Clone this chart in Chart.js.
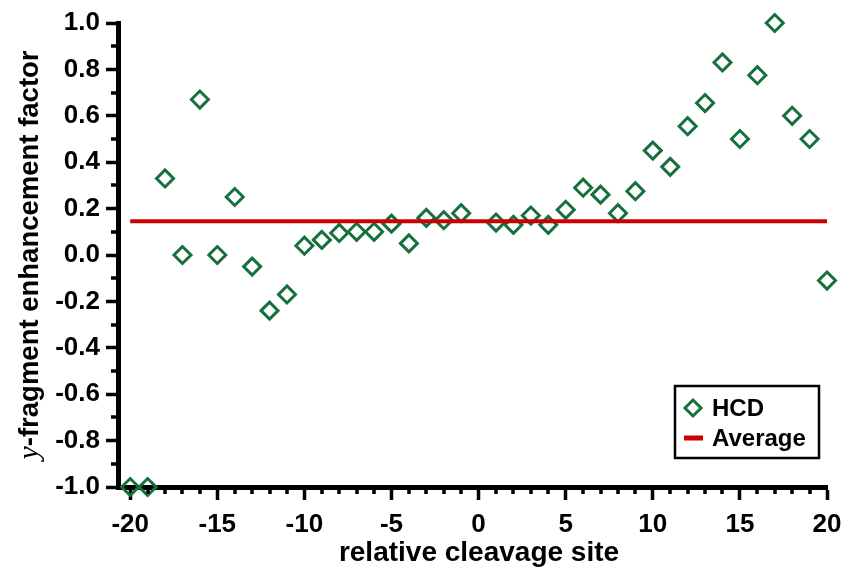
<!DOCTYPE html>
<html>
<head>
<meta charset="utf-8">
<script src="https://cdn.jsdelivr.net/npm/chart.js@4.4.1/dist/chart.umd.min.js"></script>
<style>
  html, body { margin: 0; padding: 0; background: #fff; }
  #wrap { width: 844px; height: 571px; }
</style>
</head>
<body>
<div id="wrap"><canvas id="chart" width="844" height="571"></canvas></div>
<script>
// relative cleavage site (no value at 0)
const sites = [-20, -19, -18, -17, -16, -15, -14, -13, -12, -11,
               -10, -9, -8, -7, -6, -5, -4, -3, -2, -1,
               1, 2, 3, 4, 5, 6, 7, 8, 9, 10,
               11, 12, 13, 14, 15, 16, 17, 18, 19, 20];
// y-fragment enhancement factor, HCD
const hcdFactor = [-1.0, -1.0, 0.33, 0.0, 0.67, 0.0, 0.25, -0.05, -0.24, -0.17,
                   0.04, 0.065, 0.095, 0.10, 0.10, 0.135, 0.05, 0.16, 0.15, 0.18,
                   0.14, 0.13, 0.17, 0.13, 0.195, 0.29, 0.26, 0.18, 0.275, 0.45,
                   0.38, 0.555, 0.655, 0.83, 0.50, 0.775, 1.0, 0.60, 0.50, -0.11];
// average line
const averageSpan = [-20, 20];
const averageValue = 0.145;

// labelled ticks
const xLabels = [-20, -15, -10, -5, 0, 5, 10, 15, 20];
const yLabels = [-1.0, -0.8, -0.6, -0.4, -0.2, 0.0, 0.2, 0.4, 0.6, 0.8, 1.0];

const GREEN = '#16703c';
const RED = '#cc0000';
const SANS = '"Liberation Sans", Arial, sans-serif';

// every unit on x, every 0.1 on y gets a tick mark
const xTickValues = [];
for (let v = -20; v <= 20; v++) xTickValues.push(v);
const yTickValues = [];
for (let i = -10; i <= 10; i++) yTickValues.push(i / 10);

const hideMinor = ctx => (ctx.tick && ctx.tick.label !== '' ? '#000' : 'rgba(0,0,0,0)');

// short minor ticks, axis titles and the boxed legend
const extras = {
    id: 'extras',
    afterDraw(chart) {
        const ctx = chart.ctx;
        const xs = chart.scales.x;
        const ys = chart.scales.y;
        ctx.save();
        ctx.strokeStyle = '#000';
        ctx.lineWidth = 3.5;
        ctx.beginPath();
        xs.ticks.forEach(t => {
            if (t.label !== '') return;
            const px = Math.round(xs.getPixelForValue(t.value));
            ctx.moveTo(px, ys.bottom);
            ctx.lineTo(px, ys.bottom + 7);
        });
        ys.ticks.forEach(t => {
            if (t.label !== '') return;
            const py = Math.round(ys.getPixelForValue(t.value));
            ctx.moveTo(xs.left, py);
            ctx.lineTo(xs.left - 7, py);
        });
        ctx.stroke();

        // x title
        ctx.fillStyle = '#000';
        ctx.font = 'bold 28px ' + SANS;
        ctx.textAlign = 'center';
        ctx.textBaseline = 'alphabetic';
        ctx.fillText('relative cleavage site', 479, 561);

        // y title, italic serif "y" then bold sans
        const midY = (ys.top + ys.bottom) / 2;
        ctx.translate(38, midY);
        ctx.rotate(-Math.PI / 2);
        const italic = 'italic 30px "Liberation Serif", serif';
        const bold = 'bold 27.5px ' + SANS;
        ctx.font = italic;
        const w1 = ctx.measureText('y').width;
        ctx.font = bold;
        const rest = '-fragment enhancement factor';
        const w2 = ctx.measureText(rest).width;
        let x0 = -(w1 + w2) / 2;
        ctx.textAlign = 'left';
        ctx.font = italic;
        ctx.fillText('y', x0, 0);
        ctx.font = bold;
        ctx.fillText(rest, x0 + w1, 0);
        ctx.setTransform(1, 0, 0, 1, 0, 0);

        // legend box
        ctx.strokeStyle = '#000';
        ctx.lineWidth = 2.5;
        ctx.strokeRect(675, 386, 144, 72);
        ctx.strokeStyle = GREEN;
        ctx.lineWidth = 3;
        ctx.beginPath();
        ctx.moveTo(693, 400); ctx.lineTo(701, 408); ctx.lineTo(693, 416); ctx.lineTo(685, 408);
        ctx.closePath();
        ctx.stroke();
        ctx.strokeStyle = RED;
        ctx.lineWidth = 5;
        ctx.beginPath();
        ctx.moveTo(684, 438); ctx.lineTo(703, 438);
        ctx.stroke();
        ctx.fillStyle = '#000';
        ctx.font = 'bold 24px ' + SANS;
        ctx.textBaseline = 'middle';
        ctx.fillText('HCD', 712, 409);
        ctx.fillText('Average', 712, 439);
        ctx.restore();
    }
};

new Chart(document.getElementById('chart').getContext('2d'), {
    type: 'scatter',
    data: {
        datasets: [
            {
                label: 'Average',
                type: 'line',
                data: averageSpan.map(x => ({ x: x, y: averageValue })),
                borderColor: RED,
                borderWidth: 4,
                pointRadius: 0,
                fill: false
            },
            {
                label: 'HCD',
                data: sites.map((x, i) => ({ x: x, y: hcdFactor[i] })),
                pointStyle: 'rectRot',
                pointRadius: 8.5,
                borderColor: GREEN,
                backgroundColor: 'rgba(0,0,0,0)',
                pointBorderWidth: 3,
                clip: false
            }
        ]
    },
    options: {
        responsive: false,
        animation: false,
        events: [],
        layout: { padding: { top: 23, right: 17, left: 0, bottom: 0 } },
        plugins: { legend: { display: false }, tooltip: { enabled: false } },
        scales: {
            x: {
                type: 'linear',
                min: -20.7,
                max: 20,
                afterBuildTicks: s => { s.ticks = xTickValues.map(v => ({ value: v })); },
                afterFit: s => { s.height = 84; s.paddingLeft = 0; s.paddingRight = 0; },
                ticks: {
                    autoSkip: false,
                    maxRotation: 0,
                    padding: 9,
                    color: '#000',
                    font: { family: SANS, size: 26, weight: 'bold' },
                    callback: v => (xLabels.includes(v) ? String(v) : '')
                },
                grid: { drawOnChartArea: false, tickLength: 13, tickWidth: 3.5, tickColor: hideMinor },
                border: { color: '#000', width: 5 }
            },
            y: {
                min: -1,
                max: 1,
                afterBuildTicks: s => { s.ticks = yTickValues.map(v => ({ value: v })); },
                afterFit: s => { s.width = 118; s.paddingTop = 0; s.paddingBottom = 0; },
                ticks: {
                    autoSkip: false,
                    padding: 6,
                    color: '#000',
                    font: { family: SANS, size: 26, weight: 'bold' },
                    callback: v => (yLabels.some(l => Math.abs(l - v) < 1e-6) ? v.toFixed(1) : '')
                },
                grid: { drawOnChartArea: false, tickLength: 12, tickWidth: 3.5, tickColor: hideMinor },
                border: { color: '#000', width: 5 }
            }
        }
    },
    plugins: [extras]
});
</script>
</body>
</html>
